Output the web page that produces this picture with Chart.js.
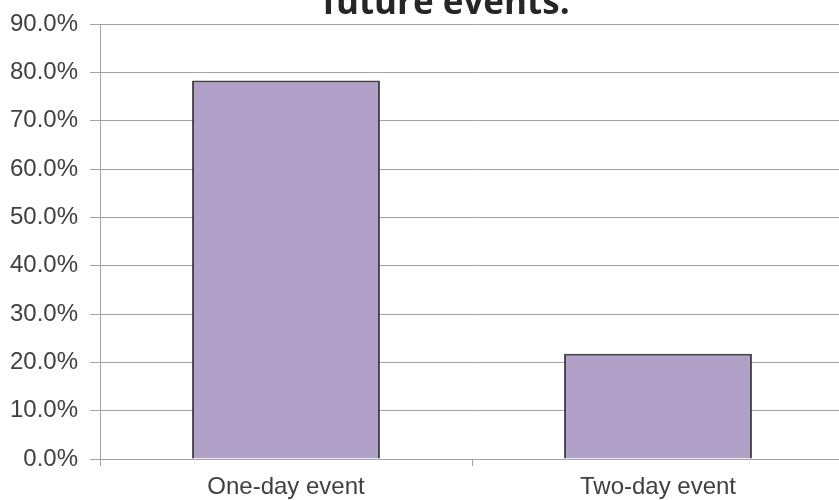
<!DOCTYPE html>
<html>
<head>
<meta charset="utf-8">
<script src="https://cdn.jsdelivr.net/npm/chart.js"></script>
<style>
  html, body { margin: 0; padding: 0; background: #fff; }
  #wrap { width: 839px; height: 500px; overflow: hidden; position: relative; }
  #box { position: absolute; left: 0; top: 0; width: 844px; height: 500px; }
  #title {
    position: absolute; left: 246px; width: 400px; top: -17px;
    text-align: center; font: bold 35px/35px "Open Sans", sans-serif;
    color: #262626; white-space: nowrap; z-index: 2;
  }
</style>
</head>
<body>
<div id="wrap">
  <div id="title"></div>
  <div id="box"><canvas id="myChart"></canvas></div>
</div>
<script>
  const categories = ['One-day event', 'Two-day event'];
  const shares = [78.3, 21.8];
  const yTicks = [0, 10, 20, 30, 40, 50, 60, 70, 80, 90];
  const titleText = 'future events.';

  document.getElementById('title').textContent = titleText;

  const ctx = document.getElementById('myChart');
  const grey = '#a3a3a3';

  new Chart(ctx, {
    type: 'bar',
    data: {
      labels: categories,
      datasets: [{
        data: shares,
        backgroundColor: '#b1a0c7',
        borderColor: '#404040',
        borderWidth: 2,
        barPercentage: 0.505,
        categoryPercentage: 1
      }]
    },
    options: {
      responsive: true,
      maintainAspectRatio: false,
      animation: false,
      layout: { padding: { left: 0, right: 0, top: 24, bottom: 0 } },
      plugins: {
        legend: { display: false },
        tooltip: { enabled: false },
        title: { display: false }
      },
      scales: {
        x: {
          grid: { display: true, drawOnChartArea: false, drawTicks: true, tickLength: 7, color: grey, offset: true },
          border: { color: grey, width: 1 },
          ticks: { color: '#404040', font: { family: 'Liberation Sans', size: 24 }, padding: 7 },
          afterFit: (s) => { s.height = 41; }
        },
        y: {
          min: 0,
          max: 90,
          afterBuildTicks: (s) => { s.ticks = yTicks.map(v => ({ value: v })); },
          grid: { color: grey, lineWidth: 1, tickLength: 10 },
          border: { color: grey, width: 1 },
          ticks: {
            color: '#404040',
            font: { family: 'Liberation Sans', size: 24, lineHeight: 0.8 },
            padding: 12,
            callback: (v) => v.toFixed(1) + '%'
          },
          afterFit: (s) => { s.width = 100; s.paddingTop = 0; s.paddingBottom = 0; }
        }
      }
    }
  });
</script>
</body>
</html>
